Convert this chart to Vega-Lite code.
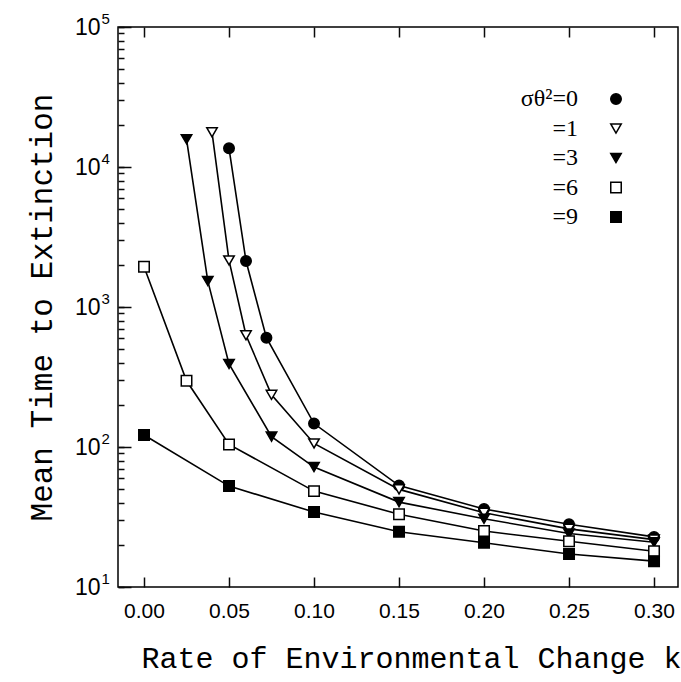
{
  "$schema": "https://vega.github.io/schema/vega-lite/v6.json",
  "width": 560,
  "height": 560,
  "autosize": {"type": "none"},
  "padding": {"left": 118, "top": 27, "right": 3, "bottom": 95},
  "background": "white",
  "data": {
    "values": [
      {"s": "0", "k": 0.05, "t": 13600},
      {"s": "0", "k": 0.06, "t": 2130},
      {"s": "0", "k": 0.072, "t": 604},
      {"s": "0", "k": 0.10, "t": 147},
      {"s": "0", "k": 0.15, "t": 53},
      {"s": "0", "k": 0.20, "t": 36.1},
      {"s": "0", "k": 0.25, "t": 28.1},
      {"s": "0", "k": 0.30, "t": 22.8},
      {"s": "1", "k": 0.04, "t": 17700},
      {"s": "1", "k": 0.05, "t": 2150},
      {"s": "1", "k": 0.06, "t": 628},
      {"s": "1", "k": 0.075, "t": 236},
      {"s": "1", "k": 0.10, "t": 106},
      {"s": "1", "k": 0.15, "t": 49.8},
      {"s": "1", "k": 0.20, "t": 33.9},
      {"s": "1", "k": 0.25, "t": 26.0},
      {"s": "1", "k": 0.30, "t": 21.8},
      {"s": "3", "k": 0.025, "t": 15800},
      {"s": "3", "k": 0.0375, "t": 1535},
      {"s": "3", "k": 0.05, "t": 392},
      {"s": "3", "k": 0.075, "t": 118.6},
      {"s": "3", "k": 0.10, "t": 71.9},
      {"s": "3", "k": 0.15, "t": 40.4},
      {"s": "3", "k": 0.20, "t": 30.7},
      {"s": "3", "k": 0.25, "t": 24.1},
      {"s": "3", "k": 0.30, "t": 20.9},
      {"s": "6", "k": 0.0, "t": 1941},
      {"s": "6", "k": 0.025, "t": 297},
      {"s": "6", "k": 0.05, "t": 104.4},
      {"s": "6", "k": 0.10, "t": 48.4},
      {"s": "6", "k": 0.15, "t": 33.1},
      {"s": "6", "k": 0.20, "t": 25.1},
      {"s": "6", "k": 0.25, "t": 21.2},
      {"s": "6", "k": 0.30, "t": 18.0},
      {"s": "9", "k": 0.0, "t": 121.9},
      {"s": "9", "k": 0.05, "t": 52.6},
      {"s": "9", "k": 0.10, "t": 34.3},
      {"s": "9", "k": 0.15, "t": 24.8},
      {"s": "9", "k": 0.20, "t": 20.7},
      {"s": "9", "k": 0.25, "t": 17.2},
      {"s": "9", "k": 0.30, "t": 15.3}
    ]
  },
  "layer": [
    {
      "mark": {"type": "line", "color": "black", "strokeWidth": 1.6},
      "encoding": {
        "x": {
          "field": "k", "type": "quantitative",
          "scale": {"domain": [-0.0153, 0.3141], "nice": false, "zero": false},
          "axis": {
            "orient": "bottom",
            "values": [0, 0.05, 0.1, 0.15, 0.2, 0.25, 0.3],
            "format": ".2f",
            "offset": -10,
            "tickSize": 10,
            "tickWidth": 1.5,
            "tickColor": "#0a0a0a",
            "labelFont": "Liberation Sans",
            "labelFontSize": 21,
            "labelPadding": 13,
            "labelColor": "black",
            "title": "Rate of Environmental Change k",
            "titleFont": "Liberation Mono",
            "titleFontSize": 30,
            "titleFontWeight": "normal",
            "titleColor": "black",
            "titlePadding": 22,
            "titleX": 293
          }
        },
        "y": {
          "field": "t", "type": "quantitative",
          "scale": {"type": "log", "domain": [10, 100000], "nice": false},
          "axis": {
            "orient": "left",
            "values": [10, 100, 1000, 10000, 100000],
            "labelExpr": "'10'",
            "offset": -13,
            "tickSize": 13,
            "tickWidth": 1.5,
            "tickColor": "#0a0a0a",
            "labelFont": "Liberation Sans",
            "labelFontSize": 23,
            "labelPadding": 18,
            "labelColor": "black",
            "labelOverlap": false,
            "labelFlush": false,
            "title": "Mean Time to Extinction",
            "titleFont": "Liberation Mono",
            "titleFontSize": 31,
            "titleFontWeight": "normal",
            "titleColor": "black",
            "titlePadding": 16
          }
        },
        "detail": {"field": "s"},
        "order": {"field": "k"}
      }
    },
    {
      "mark": {"type": "point", "stroke": "black", "strokeWidth": 1.5, "opacity": 1, "size": 110},
      "encoding": {
        "x": {
          "field": "k", "type": "quantitative",
          "axis": {
            "orient": "top",
            "values": [0, 0.05, 0.1, 0.15, 0.2, 0.25, 0.3],
            "labels": false,
            "title": null,
            "tickSize": -10,
            "tickWidth": 1.5,
            "tickColor": "#0a0a0a"
          }
        },
        "y": {
          "field": "t", "type": "quantitative",
          "axis": {
            "orient": "left",
            "values": [10, 20, 30, 40, 50, 60, 70, 80, 90, 100, 200, 300, 400, 500, 600, 700, 800, 900, 1000, 2000, 3000, 4000, 5000, 6000, 7000, 8000, 9000, 10000, 20000, 30000, 40000, 50000, 60000, 70000, 80000, 90000, 100000],
            "labelExpr": "datum.value == 10 ? '1' : datum.value == 100 ? '2' : datum.value == 1000 ? '3' : datum.value == 10000 ? '4' : datum.value == 100000 ? '5' : ''",
            "offset": -6,
            "tickSize": 6,
            "tickWidth": 1.5,
            "tickColor": "#0a0a0a",
            "labelAlign": "left",
            "labelFont": "Liberation Sans",
            "labelFontSize": 15,
            "labelPadding": 17,
            "labelOffset": -9,
            "labelColor": "black",
            "labelOverlap": false,
            "labelFlush": false,
            "title": null
          }
        },
        "shape": {
          "field": "s", "type": "nominal",
          "scale": {"domain": ["0", "1", "3", "6", "9"], "range": ["circle", "triangle-down", "triangle-down", "square", "square"]},
          "legend": {
            "title": null,
            "orient": "none",
            "legendX": 486,
            "legendY": 60,
            "labelExpr": "datum.label == '0' ? 'σθ²=0' : '=' + datum.label",
            "labelAlign": "right",
            "labelOffset": -50,
            "labelFont": "Liberation Serif",
            "labelFontSize": 24,
            "labelColor": "black",
            "symbolSize": 110,
            "rowPadding": 5.5,
            "encode": {"symbols": {"update": {"stroke": {"value": "black"}, "strokeWidth": {"value": 1.5}}}}
          }
        },
        "fill": {
          "field": "s", "type": "nominal",
          "scale": {"domain": ["0", "1", "3", "6", "9"], "range": ["black", "white", "black", "white", "black"]},
          "legend": {
            "title": null,
            "orient": "none",
            "legendX": 486,
            "legendY": 60,
            "labelExpr": "datum.label == '0' ? 'σθ²=0' : '=' + datum.label",
            "labelAlign": "right",
            "labelOffset": -50,
            "labelFont": "Liberation Serif",
            "labelFontSize": 24,
            "labelColor": "black",
            "symbolSize": 110,
            "rowPadding": 5.5,
            "encode": {"symbols": {"update": {"stroke": {"value": "black"}, "strokeWidth": {"value": 1.5}}}}
          }
        }
      }
    }
  ],
  "resolve": {"axis": {"x": "independent", "y": "independent"}},
  "config": {
    "view": {"stroke": "black", "strokeWidth": 1.5},
    "axis": {"domain": false, "grid": false}
  }
}
